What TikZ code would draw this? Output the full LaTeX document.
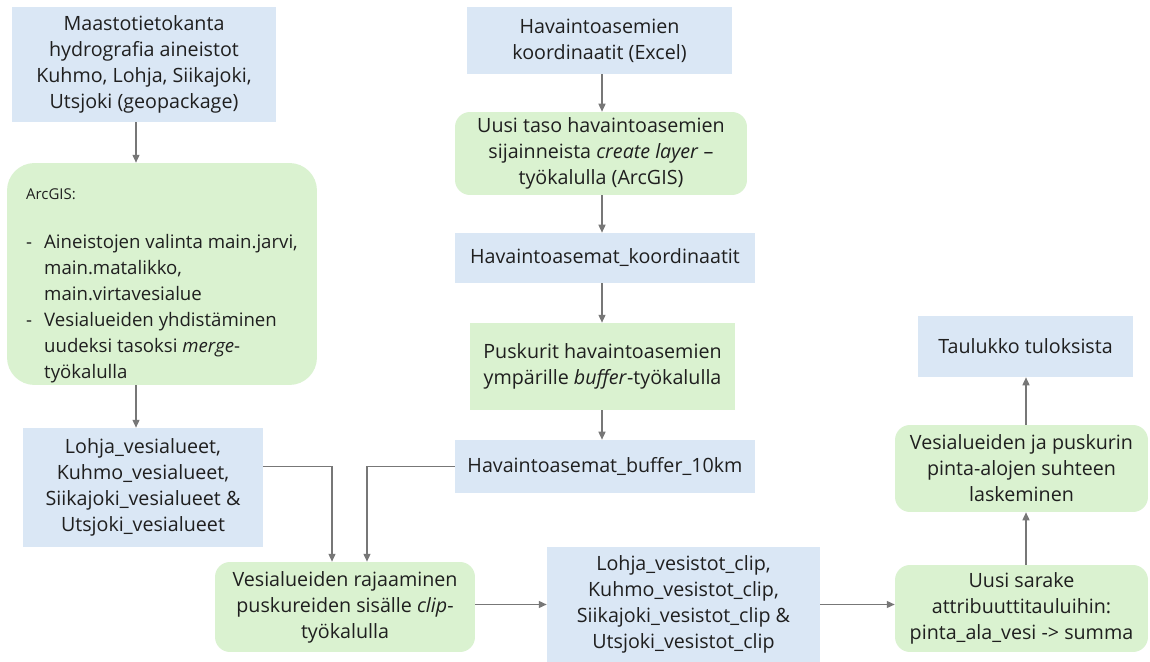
\documentclass[tikz,border=0pt]{standalone}
\usepackage{fontspec}
\setmainfont{Open Sans}
\usetikzlibrary{arrows.meta}

\definecolor{sininen}{HTML}{DAE7F5}
\definecolor{vihrea}{HTML}{DAF2D0}
\definecolor{nuoli}{HTML}{777777}
\definecolor{teksti}{HTML}{1F1F1F}

\newcommand{\viiva}{\makebox[0.36cm][l]{-}}
\newcommand{\sisennys}{\hspace*{0.36cm}}

\tikzset{
  laatikko/.style={fill=sininen, text=teksti, align=center, inner sep=0pt,
    font=\fontsize{11.2}{14.8}\selectfont},
  vaihe/.style={laatikko, fill=vihrea, rounded corners=0.3cm},
  nelio/.style={laatikko, fill=vihrea},
  nuolet/.style={draw=nuoli, line width=0.7pt, -{Triangle[length=4.5pt,width=4pt]}},
}

\begin{document}
\begin{tikzpicture}[x=0.02cm, y=-0.02cm]
	% Tausta
	\fill[white] (0,0) rectangle (1150,662);
	\useasboundingbox (0,0) rectangle (1150,662);

	% Vasen sarake
	\node[laatikko, minimum width=5.28cm, minimum height=2.30cm] (maasto) at (144,64.5)
		{Maastotietokanta\\ hydrografia aineistot\\ Kuhmo, Lohja, Siikajoki,\\ Utsjoki (geopackage)};
	\node[vaihe, rounded corners=0.55cm, align=left, font=\fontsize{10.6}{14.8}\selectfont,
		minimum width=6.20cm, minimum height=4.44cm] (arcgis) at (162,274)
		{{\fontsize{8.5}{11}\selectfont\rule{0pt}{20pt}ArcGIS:}\\[13pt]
		 \viiva Aineistojen valinta main.jarvi,\\
		 \sisennys main.matalikko,\\
		 \sisennys main.virtavesialue\\
		 \viiva Vesialueiden yhdistäminen\\
		 \sisennys uudeksi tasoksi \textit{merge}-\\
		 \sisennys työkalulla};
	\node[laatikko, minimum width=4.80cm, minimum height=2.38cm] (vesialueet) at (143,487.5)
		{Lohja\_vesialueet,\\ Kuhmo\_vesialueet,\\ Siikajoki\_vesialueet \&\\ Utsjoki\_vesialueet};
	\node[vaihe, minimum width=5.20cm, minimum height=1.80cm] (rajaus) at (345,607)
		{Vesialueiden rajaaminen\\ puskureiden sisälle \textit{clip}-\\ työkalulla};

	% Keskimmainen sarake
	\node[laatikko, minimum width=5.30cm, minimum height=1.34cm] (koordinaatit) at (599.5,40.5)
		{Havaintoasemien\\ koordinaatit (Excel)};
	\node[vaihe, minimum width=5.84cm, minimum height=1.66cm] (taso) at (601,153.5)
		{Uusi taso havaintoasemien\\ sijainneista \textit{create layer} --\\ työkalulla (ArcGIS)};
	\node[laatikko, minimum width=6.00cm, minimum height=1.00cm] (havainnot) at (605,258)
		{Havaintoasemat\_koordinaatit};
	\node[nelio, minimum width=5.30cm, minimum height=1.74cm] (puskurit) at (602.5,366.5)
		{Puskurit havaintoasemien\\ ympärille \textit{buffer}-työkalulla};
	\node[laatikko, minimum width=6.00cm, minimum height=1.06cm] (buffer) at (605,466.5)
		{Havaintoasemat\_buffer\_10km};
	\node[laatikko, minimum width=5.46cm, minimum height=2.30cm] (clip) at (683.5,604.5)
		{Lohja\_vesistot\_clip,\\ Kuhmo\_vesistot\_clip,\\ Siikajoki\_vesistot\_clip \&\\ Utsjoki\_vesistot\_clip};

	% Oikea sarake
	\node[vaihe, minimum width=5.06cm, minimum height=1.74cm] (sarake) at (1021.5,608.5)
		{Uusi sarake\\ attribuuttitauluihin:\\ pinta\_ala\_vesi -> summa};
	\node[vaihe, minimum width=5.06cm, minimum height=1.74cm] (suhde) at (1021.5,468.5)
		{Vesialueiden ja puskurin\\ pinta-alojen suhteen\\ laskeminen};
	\node[laatikko, minimum width=4.30cm, minimum height=1.22cm] (taulukko) at (1025.5,346.5)
		{Taulukko tuloksista};

	% Nuolten linjat
	\coordinate (vasen) at (136,0);
	\coordinate (keski) at (602,0);
	\coordinate (oikea) at (1026,0);

	% Nuolet
	\draw[nuolet] (maasto.south -| vasen) -- (arcgis.north -| vasen);
	\draw[nuolet] (arcgis.south -| vasen) -- (vesialueet.north -| vasen);
	\draw[nuolet] (koordinaatit.south -| keski) -- (taso.north -| keski);
	\draw[nuolet] (taso.south -| keski) -- (havainnot.north -| keski);
	\draw[nuolet] (havainnot.south -| keski) -- (puskurit.north -| keski);
	\draw[nuolet] (puskurit.south -| keski) -- (buffer.north -| keski);
	\draw[nuolet] (vesialueet.east |- buffer.west) -| ([xshift=-0.26cm]rajaus.north);
	\draw[nuolet] (buffer.west) -| ([xshift=0.44cm]rajaus.north);
	\draw[nuolet] (rajaus.east |- clip.west) -- (clip.west);
	\draw[nuolet] (clip.east) -- (clip.east -| sarake.west);
	\draw[nuolet] (sarake.north -| oikea) -- (suhde.south -| oikea);
	\draw[nuolet] (suhde.north -| oikea) -- (taulukko.south -| oikea);

\end{tikzpicture}
\end{document}
